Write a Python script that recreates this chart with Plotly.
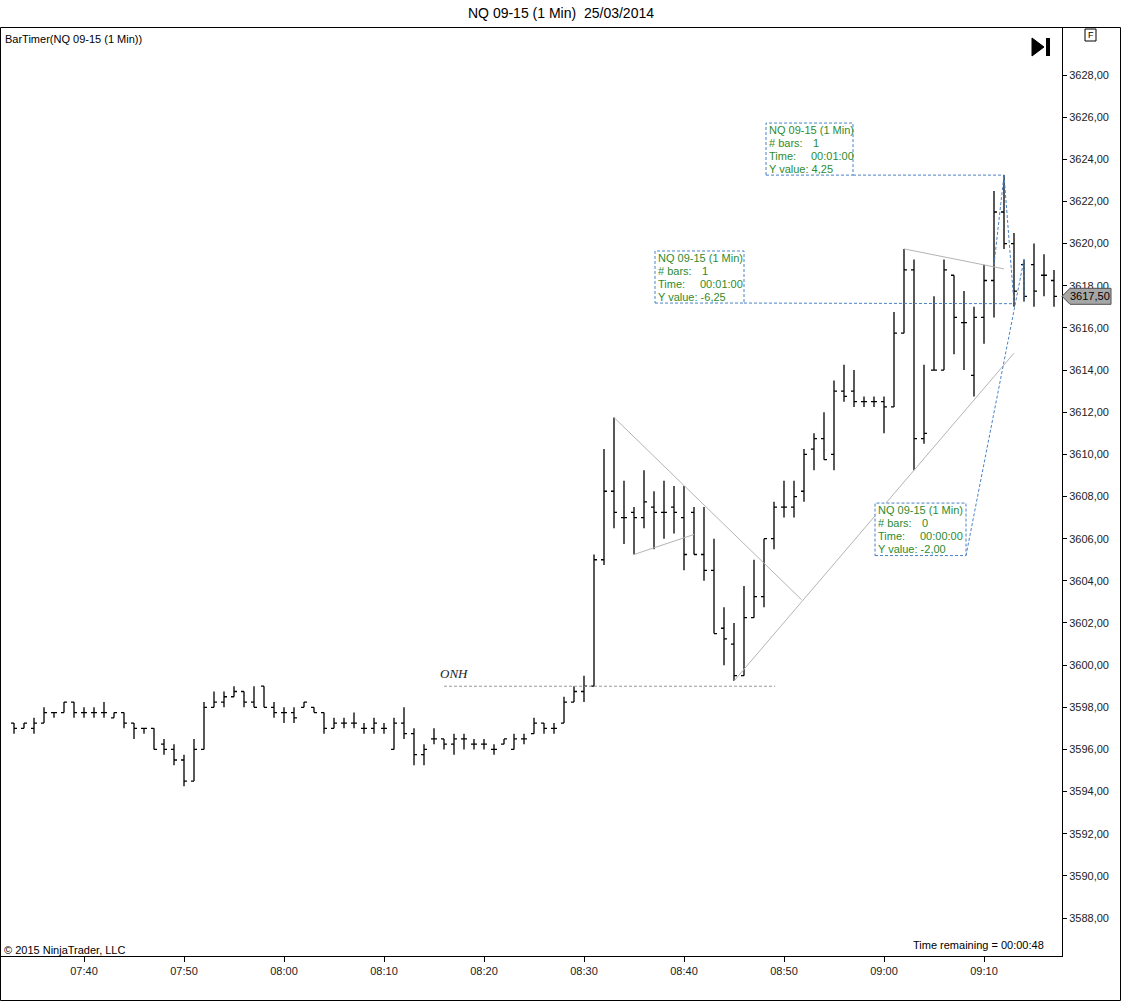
import pandas as pd
import plotly.graph_objects as go

# 1 minute bars NQ 09-15, 25/03/2014, first bar 07:33
first_bar = "2014-03-25 07:33"

opens = [3597.25, 3597.0, 3597.0, 3597.25, 3597.75, 3597.75, 3598.25, 3597.75, 3597.75, 3597.75,
         3597.5, 3597.75, 3597.25, 3597.0, 3597.0, 3596.25, 3596.0, 3595.5, 3594.5, 3596.0,
         3598.0, 3598.25, 3598.5, 3598.75, 3598.25, 3599.0, 3598.0, 3597.75, 3597.75, 3598.0,
         3598.0, 3597.75, 3597.0, 3597.25, 3597.25, 3597.0, 3597.0, 3597.0, 3596.0, 3597.25,
         3596.75, 3595.75, 3596.5, 3596.5, 3596.25, 3596.5, 3596.25, 3596.25, 3596.0, 3596.25,
         3596.0, 3596.5, 3596.75, 3597.25, 3597.0, 3597.25, 3598.25, 3598.75, 3599.0, 3605.0,
         3608.25, 3607.0, 3607.25, 3607.0, 3607.5, 3607.25, 3607.5, 3607.0, 3607.25, 3605.25,
         3604.5, 3601.75, 3601.0, 3599.5, 3602.25, 3603.25, 3606.0, 3607.5, 3607.5, 3608.25,
         3610.25, 3610.75, 3610.0, 3613.0, 3613.0, 3612.5, 3612.5, 3612.5, 3612.25, 3615.75,
         3618.75, 3610.75, 3614.0, 3614.0, 3618.5, 3616.25, 3613.75, 3616.5, 3618.25, 3621.5,
         3620.0, 3619.0, 3619.0, 3618.5, 3618.25]
highs = [3597.25, 3597.25, 3597.5, 3598.0, 3597.75, 3598.25, 3598.25, 3598.0, 3598.0, 3598.25,
         3597.75, 3597.75, 3597.25, 3597.0, 3597.0, 3596.5, 3596.25, 3595.75, 3596.5, 3598.25,
         3598.75, 3598.75, 3599.0, 3598.75, 3599.0, 3599.0, 3598.25, 3598.0, 3598.0, 3598.25,
         3598.0, 3597.75, 3597.5, 3597.5, 3597.75, 3597.25, 3597.5, 3597.25, 3597.5, 3598.0,
         3597.0, 3596.25, 3597.0, 3596.5, 3596.75, 3596.75, 3596.5, 3596.5, 3596.25, 3596.5,
         3596.75, 3596.75, 3597.5, 3597.25, 3597.25, 3598.5, 3599.0, 3599.5, 3605.25, 3610.25,
         3611.75, 3608.75, 3607.5, 3609.25, 3608.25, 3608.75, 3608.5, 3608.5, 3607.5, 3607.5,
         3606.0, 3602.75, 3602.0, 3603.75, 3605.0, 3606.0, 3607.75, 3608.75, 3608.75, 3610.25,
         3611.0, 3612.0, 3613.5, 3614.25, 3614.0, 3612.75, 3612.75, 3612.75, 3616.75, 3619.75,
         3619.25, 3614.25, 3617.5, 3619.25, 3618.5, 3617.75, 3617.0, 3619.0, 3622.5, 3623.25,
         3620.5, 3619.25, 3620.0, 3619.5, 3618.75]
lows = [3596.75, 3597.0, 3596.75, 3597.25, 3597.5, 3597.75, 3597.5, 3597.5, 3597.5, 3597.5,
        3597.5, 3597.0, 3596.5, 3596.75, 3596.0, 3595.75, 3595.25, 3594.25, 3594.5, 3596.0,
        3598.0, 3598.0, 3598.5, 3598.0, 3598.0, 3598.0, 3597.5, 3597.25, 3597.25, 3598.0,
        3597.75, 3596.75, 3597.0, 3597.0, 3597.0, 3596.75, 3596.75, 3596.75, 3596.0, 3596.5,
        3595.25, 3595.25, 3596.25, 3596.0, 3595.75, 3596.0, 3596.0, 3596.0, 3595.75, 3596.25,
        3596.0, 3596.25, 3596.75, 3596.75, 3596.75, 3597.25, 3598.25, 3598.25, 3599.0, 3604.75,
        3606.5, 3605.75, 3605.25, 3606.5, 3605.5, 3606.0, 3606.25, 3604.5, 3605.25, 3604.0,
        3601.5, 3600.0, 3599.25, 3599.5, 3602.25, 3602.75, 3605.5, 3607.0, 3607.0, 3607.75,
        3609.25, 3609.75, 3609.25, 3612.5, 3612.25, 3612.25, 3612.25, 3611.0, 3612.25, 3615.75,
        3609.25, 3610.5, 3614.0, 3614.0, 3614.75, 3614.0, 3612.75, 3615.25, 3616.5, 3619.75,
        3617.0, 3617.25, 3617.0, 3617.5, 3617.0]
closes = [3597.0, 3597.25, 3597.25, 3597.75, 3597.75, 3598.25, 3597.75, 3597.75, 3597.75, 3597.75,
          3597.75, 3597.25, 3597.0, 3597.0, 3596.0, 3596.0, 3595.5, 3594.5, 3596.0, 3598.0,
          3598.25, 3598.5, 3598.75, 3598.25, 3598.0, 3598.0, 3597.75, 3597.75, 3597.5, 3598.25,
          3597.75, 3597.0, 3597.25, 3597.25, 3597.25, 3597.0, 3597.25, 3597.0, 3597.25, 3596.75,
          3595.75, 3596.0, 3596.5, 3596.25, 3596.5, 3596.5, 3596.25, 3596.25, 3596.0, 3596.5,
          3596.5, 3596.5, 3597.25, 3597.0, 3597.0, 3598.25, 3598.75, 3599.0, 3605.0, 3608.25,
          3607.25, 3607.0, 3607.0, 3607.75, 3607.25, 3607.25, 3607.25, 3605.25, 3605.25, 3604.5,
          3601.5, 3601.25, 3599.5, 3602.25, 3603.25, 3606.0, 3607.5, 3607.5, 3608.0, 3610.0,
          3610.75, 3609.75, 3613.0, 3612.75, 3612.5, 3612.5, 3612.5, 3612.25, 3615.75, 3618.75,
          3610.75, 3611.0, 3614.0, 3618.75, 3616.5, 3616.25, 3616.5, 3618.25, 3621.5, 3620.0,
          3617.75, 3617.5, 3617.75, 3618.5, 3617.5]

price_ticks = [3588, 3590, 3592, 3594, 3596, 3598, 3600, 3602, 3604, 3606, 3608,
               3610, 3612, 3614, 3616, 3618, 3620, 3622, 3624, 3626, 3628]
last_price = 3617.50

# drawing objects (time, price)
onh_level = 3599.0
onh_span = ["2014-03-25 08:16", "2014-03-25 08:49:06"]

trend_lines = [
    (["2014-03-25 08:33", "2014-03-25 08:51:46"], [3611.75, 3603.1]),
    (["2014-03-25 08:45", "2014-03-25 09:13"], [3599.25, 3614.8]),
    (["2014-03-25 08:35", "2014-03-25 08:41"], [3605.25, 3606.2]),
    (["2014-03-25 09:02", "2014-03-25 09:12"], [3619.75, 3618.8]),
]

# rulers: start, end, text box (x0, x1, top, bottom), connector anchor, texts
rulers = [
    dict(start=("2014-03-25 09:11", 3619.0), end=("2014-03-25 09:12", 3623.25),
         box=("2014-03-25 08:48:12", "2014-03-25 08:56:54", 3625.72, 3623.25),
         anchor=("2014-03-25 09:12", 3623.25),
         bars="1", time="00:01:00", yval="4,25"),
    dict(start=("2014-03-25 09:12", 3623.25), end=("2014-03-25 09:13", 3617.15),
         box=("2014-03-25 08:37:06", "2014-03-25 08:46:00", 3619.65, 3617.18),
         anchor=("2014-03-25 09:13", 3617.15),
         bars="1", time="00:01:00", yval="-6,25"),
    dict(start=("2014-03-25 09:14", 3619.25), end=("2014-03-25 09:14", 3617.25),
         box=("2014-03-25 08:59:06", "2014-03-25 09:08:12", 3607.69, 3605.2),
         anchor=("2014-03-25 09:14", 3619.25),
         bars="0", time="00:00:00", yval="-2,00"),
]

times = pd.date_range(start=first_bar, periods=len(opens), freq="min")

# pixel helpers for things outside the data area (plot: x 1..1062, y 28..956)
def px(p):
    return (p - 1) / 1061

def py(y):
    return (956 - y) / 928

fig = go.Figure()

fig.add_trace(go.Ohlc(
    x=times, open=opens, high=highs, low=lows, close=closes,
    increasing_line_color="black", decreasing_line_color="black",
    line_width=1.3, tickwidth=0.3, hoverinfo="skip", showlegend=False))

blue = "#4a82c4"
green = "#2e8b2e"
gray = "#b4b4b4"
font = "Liberation Sans, Arial, sans-serif"

shapes = []
annotations = []

# ONH level
shapes.append(dict(type="line", xref="x", yref="y", x0=onh_span[0], x1=onh_span[1],
                   y0=onh_level, y1=onh_level, line=dict(color="#999999", width=1, dash="3px,2px")))
annotations.append(dict(xref="x", yref="y", x=onh_span[0], y=onh_level, text="<i>ONH</i>",
                        showarrow=False, xanchor="left", yanchor="bottom", xshift=-6, yshift=3,
                        font=dict(family="Liberation Serif, Times New Roman, serif", size=13,
                                  color="#222222")))

for lx, ly in trend_lines:
    shapes.append(dict(type="line", xref="x", yref="y", x0=lx[0], x1=lx[1], y0=ly[0], y1=ly[1],
                       line=dict(color=gray, width=1)))

for r in rulers:
    dash = dict(color=blue, width=1, dash="3px,2px")
    shapes.append(dict(type="line", xref="x", yref="y", x0=r["start"][0], y0=r["start"][1],
                       x1=r["end"][0], y1=r["end"][1], line=dash))
    bx0, bx1, btop, bbot = r["box"]
    shapes.append(dict(type="line", xref="x", yref="y", x0=bx1, y0=bbot,
                       x1=r["anchor"][0], y1=r["anchor"][1], line=dash))
    shapes.append(dict(type="rect", xref="x", yref="y", x0=bx0, x1=bx1, y0=bbot, y1=btop,
                       line=dash, fillcolor="rgba(255,255,255,0.85)"))
    rows = [("NQ 09-15 (1 Min)", ""), ("# bars:", r["bars"]), ("Time:", r["time"]),
            ("Y value: " + r["yval"], "")]
    for k, (lab, val) in enumerate(rows):
        annotations.append(dict(xref="x", yref="y", x=bx0, y=btop, text=lab, showarrow=False,
                                xanchor="left", yanchor="middle", xshift=1, yshift=-(7 + 13 * k),
                                font=dict(family=font, size=11, color=green)))
        if val:
            annotations.append(dict(xref="x", yref="y", x=bx0, y=btop, text=val, showarrow=False,
                                    xanchor="left", yanchor="middle",
                                    xshift=43 if len(val) > 1 else 45, yshift=-(7 + 13 * k),
                                    font=dict(family=font, size=11, color=green)))

# outer frame
shapes.append(dict(type="rect", xref="paper", yref="paper", x0=px(0.5), x1=px(1120.5),
                   y0=py(1000.5), y1=py(27.5), line=dict(color="black", width=1)))

# "go to last bar" icon
shapes.append(dict(type="path", xref="paper", yref="paper",
                   path=f"M {px(1032)},{py(38)} L {px(1044)},{py(47)} L {px(1032)},{py(56)} Z",
                   fillcolor="black", line=dict(color="black", width=1)))
shapes.append(dict(type="rect", xref="paper", yref="paper", x0=px(1046), x1=px(1050),
                   y0=py(56), y1=py(38), fillcolor="black", line=dict(width=0)))

# "F" box
shapes.append(dict(type="rect", xref="paper", yref="paper", x0=px(1085), x1=px(1096),
                   y0=py(41), y1=py(29), line=dict(color="black", width=1)))
annotations.append(dict(xref="paper", yref="paper", x=px(1090.5), y=py(35), text="F",
                        showarrow=False, xanchor="center", yanchor="middle",
                        font=dict(family=font, size=9, color="black")))

# last price marker
d = 8 / 21.075
shapes.append(dict(type="path", xref="paper", yref="y",
                   path=(f"M {px(1062)},{last_price} L {px(1070)},{last_price + d} "
                         f"L {px(1111)},{last_price + d} L {px(1111)},{last_price - d} "
                         f"L {px(1070)},{last_price - d} Z"),
                   fillcolor="#a6a6a6", line=dict(color="#505050", width=1), layer="above"))
annotations.append(dict(xref="paper", yref="y", x=px(1090), y=last_price,
                        text=f"{last_price:.2f}".replace(".", ","), showarrow=False,
                        xanchor="center", yanchor="middle",
                        font=dict(family=font, size=11, color="black")))

# texts
annotations.append(dict(xref="paper", yref="paper", x=px(3), y=py(39), text="BarTimer(NQ 09-15 (1 Min))",
                        showarrow=False, xanchor="left", yanchor="middle",
                        font=dict(family=font, size=11, color="black")))
annotations.append(dict(xref="paper", yref="paper", x=px(2), y=py(950), text="© 2015 NinjaTrader, LLC",
                        showarrow=False, xanchor="left", yanchor="middle",
                        font=dict(family=font, size=11, color="black")))
annotations.append(dict(xref="paper", yref="paper", x=px(1046), y=py(945),
                        text="Time remaining = 00:00:48", showarrow=False, xanchor="right",
                        yanchor="middle", font=dict(family=font, size=11, color="black")))

fig.update_layout(
    width=1122, height=1002,
    margin=dict(l=1, r=60, t=28, b=46),
    paper_bgcolor="white", plot_bgcolor="white",
    separators=",.",
    title=dict(text="NQ 09-15 (1 Min)\u00a0 25/03/2014", x=0.5, xanchor="center",
               xref="container", yref="container", y=1 - 13 / 1002, yanchor="middle",
               font=dict(family=font, size=14, color="black")),
    shapes=shapes, annotations=annotations,
    showlegend=False,
)

fig.update_xaxes(
    range=["2014-03-25 07:31:42", "2014-03-25 09:17:48"],
    rangeslider_visible=False,
    showgrid=False, zeroline=False,
    showline=True, linecolor="black", linewidth=1,
    ticks="outside", ticklen=5, tickcolor="black",
    dtick=600000, tick0="2014-03-25 07:40", tickformat="%H:%M",
    tickfont=dict(family=font, size=11, color="#222222"),
)
fig.update_yaxes(
    range=[3586.20, 3630.23], side="right",
    showgrid=False, zeroline=False,
    showline=True, linecolor="black", linewidth=1,
    ticks="outside", ticklen=4, tickcolor="black",
    tickvals=price_ticks, tickformat=".2f",
    tickfont=dict(family=font, size=11, color="#222222"),
)

# page without the default body margin, so the figure fills the window
fig.write_html("out.html", config={"displayModeBar": False},
               post_script="document.body.style.margin = '0';")
